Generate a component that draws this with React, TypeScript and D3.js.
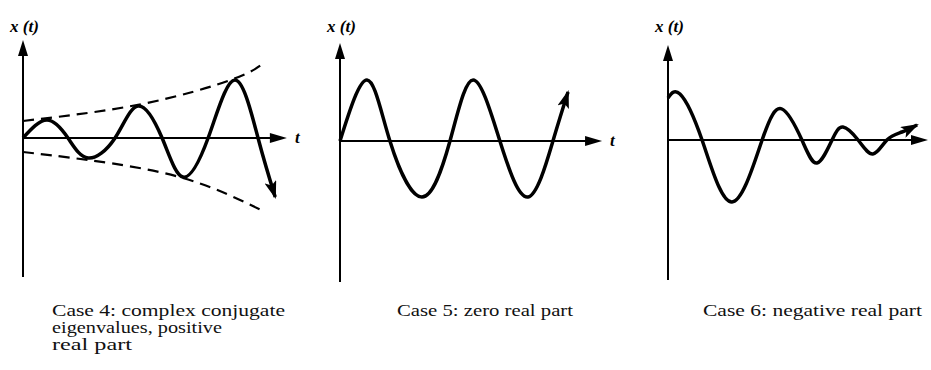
import React from "react";
import * as d3 from "d3";

// t in panel units (0..10), x in amplitude units (+-1)
const case4T = [0, 0.92, 1.73, 2.5, 3.54, 4.42, 5.35, 6.15, 7.12, 8.15, 9.04, 9.7];
const case4X = [0, 0.18, 0, -0.2, 0, 0.32, 0, -0.39, 0, 0.58, 0, -0.59];
const upperT = [0, 4.58, 8.08, 9.31];
const upperX = [0.17, 0.34, 0.59, 0.76];
const lowerT = [0, 2.5, 6.15, 9.31];
const lowerX = [-0.14, -0.22, -0.4, -0.74];

const case5T = [0, 1.04, 1.92, 3.15, 4.23, 5.12, 6.15, 7.23, 8.19, 8.77];
const case5X = [0, 0.61, 0, -0.56, 0, 0.61, 0, -0.56, 0, 0.49];

const case6T = [0, 0.46, 1.31, 2.46, 3.62, 4.38, 5.15, 5.73, 6.31, 6.73, 7.31, 7.88, 8.42, 9.0, 9.58];
const case6X = [0.42, 0.46, 0, -0.62, 0, 0.31, 0, -0.23, 0, 0.13, 0, -0.14, 0, 0.08, 0.15];

const captions = [
  ["Case 4: complex conjugate", "eigenvalues, positive", "real part"],
  ["Case 5: zero real part"],
  ["Case 6: negative real part"],
];
// measured widths of the caption lines, px
const captionWidths = [[233, 170, 80], [176], [219]];

const panels = [
  { ox: 23, oy: 138, top: 40, bottom: 277, axisEnd: 10.15, tLabel: true, capX: 52 },
  { ox: 340, oy: 141, top: 43, bottom: 282, axisEnd: 10.08, tLabel: true, capX: 397 },
  { ox: 668, oy: 140, top: 45, bottom: 280, axisEnd: 10, tLabel: false, capX: 703 },
];

const zip = (t: number[], x: number[]) => t.map((v, i) => ({ t: v, x: x[i] }));

const serif = "'Liberation Serif', 'Times New Roman', serif";

const Panel = ({ p, idx, curve, envelopes }: any) => {
  const tScale = d3.scaleLinear().domain([0, 10]).range([p.ox, p.ox + 260]);
  const xScale = d3.scaleLinear().domain([-1, 1]).range([p.oy + 100, p.oy - 100]);
  const line = d3
    .line<{ t: number; x: number }>()
    .x((d) => tScale(d.t))
    .y((d) => xScale(d.x))
    .curve(d3.curveNatural);
  const axisEndX = tScale(p.axisEnd);
  return (
    <g>
      {/* vertical axis */}
      <line x1={p.ox} x2={p.ox} y1={p.bottom} y2={p.top + 12} stroke="#000" strokeWidth={2} />
      <path d={`M${p.ox},${p.top} L${p.ox - 5},${p.top + 16} L${p.ox + 5},${p.top + 16} Z`} fill="#000" />
      {/* horizontal axis */}
      <line x1={p.ox} x2={axisEndX - 12} y1={p.oy} y2={p.oy} stroke="#000" strokeWidth={2} />
      <path d={`M${axisEndX},${p.oy} L${axisEndX - 17},${p.oy - 5} L${axisEndX - 17},${p.oy + 5} Z`} fill="#000" />
      {envelopes &&
        envelopes.map((e: any, i: number) => (
          <path
            key={i}
            d={line(e) || ""}
            fill="none"
            stroke="#000"
            strokeWidth={2.2}
            strokeDasharray="11,7"
          />
        ))}
      <path
        d={line(curve) || ""}
        fill="none"
        stroke="#000"
        strokeWidth={3.5}
        strokeLinejoin="round"
        markerEnd="url(#head)"
      />
      <text
        x={p.ox - 13}
        y={32}
        fontFamily={serif}
        fontSize={17}
        fontWeight="bold"
        fontStyle="italic"
      >
        x (t)
      </text>
      {p.tLabel && (
        <text
          x={axisEndX + 8}
          y={p.oy + 5}
          fontFamily={serif}
          fontSize={17}
          fontWeight="bold"
          fontStyle="italic"
        >
          t
        </text>
      )}
      {captions[idx].map((c, i) => (
        <text
          key={i}
          x={p.capX}
          y={316 + i * 17}
          fontFamily={serif}
          fontSize={16}
          fill="#111"
          textLength={captionWidths[idx][i]}
          lengthAdjust="spacingAndGlyphs"
        >
          {c}
        </text>
      ))}
    </g>
  );
};

export default function App() {
  return (
    <div style={{ position: "absolute", left: 0, top: 0 }}>
      <svg width={931} height={370} style={{ display: "block", background: "#fff" }}>
        <defs>
          <marker
            id="head"
            markerUnits="userSpaceOnUse"
            viewBox="0 0 18 12"
            refX={16}
            refY={6}
            markerWidth={18}
            markerHeight={12}
            orient="auto"
          >
            <path d="M0,0 L18,6 L0,12 L4,6 Z" fill="#000" />
          </marker>
        </defs>
        <Panel
          p={panels[0]}
          idx={0}
          curve={zip(case4T, case4X)}
          envelopes={[zip(upperT, upperX), zip(lowerT, lowerX)]}
        />
        <Panel p={panels[1]} idx={1} curve={zip(case5T, case5X)} />
        <Panel p={panels[2]} idx={2} curve={zip(case6T, case6X)} />
      </svg>
    </div>
  );
}
